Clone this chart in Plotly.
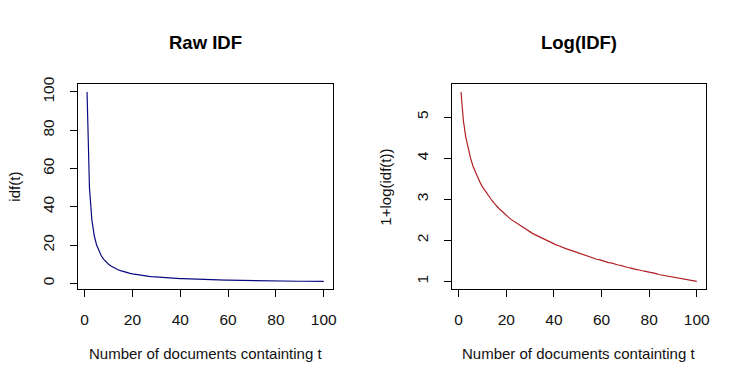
import plotly.graph_objects as go

W, H = 751, 385

# Number of documents containing t
docs = list(range(1, 101))

# Raw IDF values
raw_idf = [100, 50, 33.33, 25, 20, 16.67, 14.29, 12.5, 11.11, 10,
           9.09, 8.33, 7.69, 7.14, 6.67, 6.25, 5.88, 5.56, 5.26, 5,
           4.76, 4.55, 4.35, 4.17, 4, 3.85, 3.70, 3.57, 3.45, 3.33,
           3.23, 3.13, 3.03, 2.94, 2.86, 2.78, 2.70, 2.63, 2.56, 2.5,
           2.44, 2.38, 2.33, 2.27, 2.22, 2.17, 2.13, 2.08, 2.04, 2,
           1.96, 1.92, 1.89, 1.85, 1.82, 1.79, 1.75, 1.72, 1.69, 1.67,
           1.64, 1.61, 1.59, 1.56, 1.54, 1.52, 1.49, 1.47, 1.45, 1.43,
           1.41, 1.39, 1.37, 1.35, 1.33, 1.32, 1.30, 1.28, 1.27, 1.25,
           1.23, 1.22, 1.20, 1.19, 1.18, 1.16, 1.15, 1.14, 1.12, 1.11,
           1.10, 1.09, 1.08, 1.06, 1.05, 1.04, 1.03, 1.02, 1.01, 1]

# 1 + log(idf) values
log_idf = [5.61, 4.91, 4.51, 4.22, 4.00, 3.81, 3.66, 3.53, 3.41, 3.30,
           3.21, 3.12, 3.04, 2.97, 2.90, 2.83, 2.77, 2.72, 2.66, 2.61,
           2.56, 2.51, 2.47, 2.43, 2.39, 2.35, 2.31, 2.27, 2.24, 2.20,
           2.17, 2.14, 2.11, 2.08, 2.05, 2.02, 1.99, 1.97, 1.94, 1.92,
           1.89, 1.87, 1.84, 1.82, 1.80, 1.78, 1.76, 1.73, 1.71, 1.69,
           1.67, 1.65, 1.63, 1.62, 1.60, 1.58, 1.56, 1.54, 1.53, 1.51,
           1.49, 1.48, 1.46, 1.45, 1.43, 1.42, 1.40, 1.39, 1.37, 1.36,
           1.34, 1.33, 1.31, 1.30, 1.29, 1.27, 1.26, 1.25, 1.24, 1.22,
           1.21, 1.20, 1.19, 1.17, 1.16, 1.15, 1.14, 1.13, 1.12, 1.11,
           1.09, 1.08, 1.07, 1.06, 1.05, 1.04, 1.03, 1.02, 1.01, 1.00]

x_ticks = [0, 20, 40, 60, 80, 100]
y1_ticks = [0, 20, 40, 60, 80, 100]
y2_ticks = [1, 2, 3, 4, 5]

titles = ["Raw IDF", "Log(IDF)"]
x_label = "Number of documents containting t"
y_labels = ["idf(t)", "1+log(idf(t))"]

FONT = "Liberation Sans, Arial, sans-serif"

fig = go.Figure()
fig.add_trace(go.Scatter(x=docs, y=raw_idf, mode="lines",
                         line=dict(color="#0a0a80", width=1.2),
                         xaxis="x", yaxis="y", showlegend=False))
fig.add_trace(go.Scatter(x=docs, y=log_idf, mode="lines",
                         line=dict(color="#b21e22", width=1.2),
                         xaxis="x2", yaxis="y2", showlegend=False))

def pad(lo, hi):
    d = (hi - lo) * 0.04
    return [lo - d, hi + d]

box_l = [78 / W, 335 / W]
box_r = [454 / W, 710 / W]
box_y = [1 - 287 / H, 1 - 78 / H]

common_x = dict(showline=True, linecolor="black", linewidth=1, mirror=True,
                ticks="outside", ticklen=7, tickcolor="black", tickwidth=1,
                showgrid=False, zeroline=False, tickvals=x_ticks,
                tickfont=dict(size=15.5, color="#111"), ticklabelstandoff=9)
common_y = dict(showline=True, linecolor="black", linewidth=1, mirror=True,
                ticks="outside", ticklen=7, tickcolor="black", tickwidth=1,
                showgrid=False, zeroline=False, tickangle=-90,
                tickfont=dict(size=15.5, color="#111"), ticklabelstandoff=9)

fig.update_layout(
    width=W, height=H,
    margin=dict(l=0, r=0, t=0, b=0),
    paper_bgcolor="white", plot_bgcolor="white",
    font=dict(family=FONT, color="#111"),
    xaxis=dict(domain=box_l, range=pad(1, 100), anchor="y", **common_x),
    yaxis=dict(domain=box_y, range=pad(1, 100), anchor="x",
               tickvals=y1_ticks, **common_y),
    xaxis2=dict(domain=box_r, range=pad(1, 100), anchor="y2", **common_x),
    yaxis2=dict(domain=box_y, range=pad(1.0, 5.61), anchor="x2",
                tickvals=y2_ticks, **common_y),
)

centers = [(box_l[0] + box_l[1]) / 2, (box_r[0] + box_r[1]) / 2]
ylab_x = [15 / W, 388 / W]
ymid = (box_y[0] + box_y[1]) / 2
for i in range(2):
    fig.add_annotation(text="<b>%s</b>" % titles[i], xref="paper", yref="paper",
                       x=centers[i], y=1 - 35 / H, showarrow=False,
                       xanchor="center", yanchor="middle",
                       font=dict(size=18.5, color="black", family=FONT))
    fig.add_annotation(text=x_label, xref="paper", yref="paper",
                       x=centers[i], y=1 - 353 / H, showarrow=False,
                       xanchor="center", yanchor="middle",
                       font=dict(size=15, color="#111", family=FONT))
    fig.add_annotation(text=y_labels[i], xref="paper", yref="paper",
                       x=ylab_x[i], y=ymid, showarrow=False, textangle=-90,
                       xanchor="center", yanchor="middle",
                       font=dict(size=15, color="#111", family=FONT))

fig.write_html("out.html", config={"displayModeBar": False},
               post_script="document.body.style.margin='0';"
                           "document.body.style.overflow='hidden';")
